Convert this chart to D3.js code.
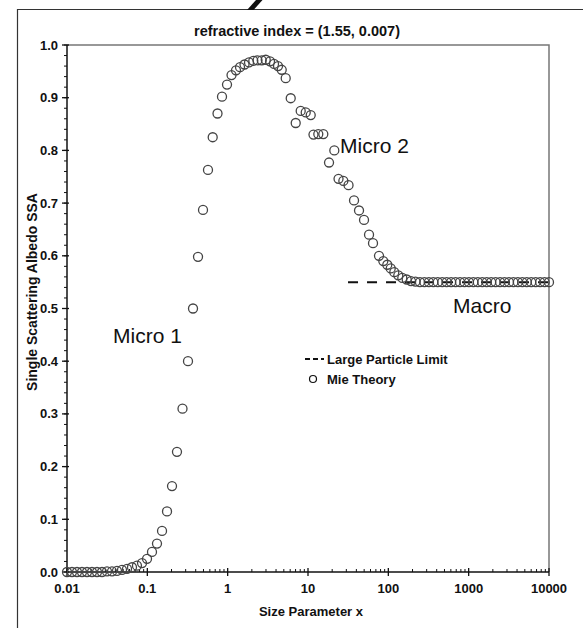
<!DOCTYPE html>
<html>
<head>
<meta charset="utf-8">
<script src="https://cdn.jsdelivr.net/npm/d3@7"></script>
<style>
body { margin: 0; background: #fff; }
svg { display: block; font-family: "Liberation Sans", Arial, Helvetica, sans-serif; }
.tick-label { font-size: 13px; font-weight: bold; fill: #111; }
.axis-title { font-size: 13px; font-weight: bold; fill: #111; }
.region { font-size: 21px; fill: #111; }
.legend { font-size: 13px; font-weight: bold; fill: #111; }
</style>
</head>
<body>
<svg id="chart" width="583" height="628"></svg>
<script>
//
// data
//

var chartTitle = "refractive index = (1.55, 0.007)";
var xTitle = "Size Parameter x";
var yTitle = "Single Scattering Albedo SSA";

var xTicks = [0.01, 0.1, 1, 10, 100, 1000, 10000];
var xTickLabels = ["0.01", "0.1", "1", "10", "100", "1000", "10000"];
var yTicks = [0, 0.1, 0.2, 0.3, 0.4, 0.5, 0.6, 0.7, 0.8, 0.9, 1.0];

// Mie theory (size parameter, SSA)
var mieX = [
	0.01, 0.01154, 0.01332, 0.01537, 0.01774, 0.02047, 0.02363, 0.02727, 0.03148, 0.03632,
	0.0419, 0.04839, 0.05585, 0.06442, 0.0743, 0.0859, 0.0991, 0.1143, 0.1319, 0.1524,
	0.1758, 0.2029, 0.2339, 0.274, 0.3208, 0.3703, 0.4275, 0.4932, 0.569, 0.6512,
	0.7475, 0.8502, 0.9813, 1.117, 1.27, 1.425, 1.621, 1.844, 2.086, 2.353,
	2.655, 2.977, 3.367, 3.776, 4.235, 4.708, 5.279, 6.094, 7.031, 8.111,
	9.365, 10.81, 11.7, 13.43, 15.51, 18.27, 21.26, 23.99, 27.54, 31.95,
	37.41, 43.17, 49.82, 57.52, 64.45, 76.54, 86.6, 97.1, 107.1, 118.6,
	133.0, 149.2, 169.3, 191.6, 217.9, 247.6, 281.4, 319.7, 363.1, 412.5,
	468.7, 532.4, 604.9, 687.1, 780.6, 886.8, 1007, 1144, 1300, 1477,
	1678, 1906, 2165, 2460, 2795, 3175, 3607, 4098, 4656, 5289,
	6009, 6827, 7756, 8810, 10000
];
var mieSSA = [
	0.000, 0.000, 0.000, 0.000, 0.000, 0.000, 0.000, 0.000, 0.001, 0.001,
	0.002, 0.004, 0.006, 0.009, 0.012, 0.017, 0.025, 0.038, 0.054, 0.078,
	0.115, 0.163, 0.228, 0.310, 0.400, 0.500, 0.598, 0.687, 0.763, 0.825,
	0.870, 0.902, 0.925, 0.943, 0.952, 0.958, 0.963, 0.967, 0.970, 0.971,
	0.971, 0.972, 0.969, 0.964, 0.960, 0.953, 0.937, 0.899, 0.852, 0.875,
	0.872, 0.867, 0.830, 0.831, 0.831, 0.777, 0.800, 0.746, 0.742, 0.734,
	0.705, 0.686, 0.668, 0.640, 0.624, 0.600, 0.590, 0.583, 0.576, 0.569,
	0.563, 0.558, 0.555, 0.552, 0.551, 0.550, 0.550, 0.550, 0.550, 0.550,
	0.550, 0.550, 0.550, 0.550, 0.550, 0.550, 0.550, 0.550, 0.550, 0.550,
	0.550, 0.550, 0.550, 0.550, 0.550, 0.550, 0.550, 0.550, 0.550, 0.550,
	0.550, 0.550, 0.550, 0.550, 0.550
];

// large particle limit
var limitX = [31.5, 10000];
var limitSSA = [0.55, 0.55];

//
//
//

var svg = d3.select("#chart");

// plot box in pixels (note: "top" is a reserved window property)
var plotLeft = 67, plotRight = 549, plotTop = 45, plotBottom = 572;

var xScale = d3.scaleLog().domain([0.01, 10000]).range([plotLeft, plotRight]);
var yScale = d3.scaleLinear().domain([0, 1]).range([plotBottom, plotTop]);

function draw_frame()
{
	// outer frame, runs off the right and bottom of the picture
	svg.append("path")
		.attr("d", "M17.5,628 L17.5,9.5 L583,9.5")
		.attr("fill", "none")
		.attr("stroke", "#333")
		.attr("stroke-width", 1.2);

	// the cut-off black stroke above the frame
	svg.append("path")
		.attr("d", "M247,10 L253.5,10 L262.5,0 L256,0 Z")
		.attr("fill", "#111");
}

function draw_axes()
{
	// box: top and right sides in grey
	svg.append("path")
		.attr("d", "M" + plotLeft + "," + plotTop + " L" + plotRight + "," + plotTop + " L" + plotRight + "," + plotBottom)
		.attr("fill", "none")
		.attr("stroke", "#777")
		.attr("stroke-width", 1.5);

	var minorY = d3.range(0, 51).map(d => d / 50);

	svg.selectAll("line.yminor")
		.data(minorY)
		.enter()
		.append("line")
			.attr("class", "yminor")
			.attr("x1", plotLeft - 3).attr("x2", plotLeft)
			.attr("y1", d => yScale(d)).attr("y2", d => yScale(d))
			.attr("stroke", "#111").attr("stroke-width", 1);

	svg.selectAll("line.ymajor")
		.data(yTicks)
		.enter()
		.append("line")
			.attr("class", "ymajor")
			.attr("x1", plotLeft - 5).attr("x2", plotLeft + 2)
			.attr("y1", d => yScale(d)).attr("y2", d => yScale(d))
			.attr("stroke", "#111").attr("stroke-width", 1.3);

	svg.selectAll("text.ylab")
		.data(yTicks)
		.enter()
		.append("text")
			.attr("class", "tick-label ylab")
			.attr("x", plotLeft - 9)
			.attr("y", d => yScale(d) + 4.5)
			.attr("text-anchor", "end")
			.text(d => d3.format(".1f")(d));

	var minorX = [];
	xTicks.slice(0, -1).forEach(function(t) {
		for (var k = 2; k < 10; k++) minorX.push(t * k);
	});

	svg.selectAll("line.xminor")
		.data(minorX)
		.enter()
		.append("line")
			.attr("class", "xminor")
			.attr("x1", d => xScale(d)).attr("x2", d => xScale(d))
			.attr("y1", plotBottom - 3).attr("y2", plotBottom)
			.attr("stroke", "#111").attr("stroke-width", 1);

	svg.selectAll("line.xmajor")
		.data(xTicks)
		.enter()
		.append("line")
			.attr("class", "xmajor")
			.attr("x1", d => xScale(d)).attr("x2", d => xScale(d))
			.attr("y1", plotBottom - 4).attr("y2", plotBottom + 4)
			.attr("stroke", "#111").attr("stroke-width", 1.3);

	svg.selectAll("text.xlab")
		.data(xTicks)
		.enter()
		.append("text")
			.attr("class", "tick-label xlab")
			.attr("x", d => xScale(d))
			.attr("y", plotBottom + 21)
			.attr("text-anchor", "middle")
			.text((d, i) => xTickLabels[i]);

	// axis lines
	svg.append("line")
		.attr("x1", plotLeft).attr("x2", plotLeft)
		.attr("y1", plotTop).attr("y2", plotBottom)
		.attr("stroke", "#111").attr("stroke-width", 1.5);
	svg.append("line")
		.attr("x1", plotLeft).attr("x2", plotRight)
		.attr("y1", plotBottom).attr("y2", plotBottom)
		.attr("stroke", "#111").attr("stroke-width", 1.5);

	svg.append("text")
		.attr("class", "axis-title")
		.attr("x", 311).attr("y", 616)
		.attr("text-anchor", "middle")
		.text(xTitle);

	svg.append("text")
		.attr("class", "axis-title")
		.attr("transform", "translate(37,292) rotate(-90)")
		.attr("text-anchor", "middle")
		.style("font-size", "14px")
		.text(yTitle);

	svg.append("text")
		.attr("class", "axis-title")
		.attr("x", 297).attr("y", 36)
		.attr("text-anchor", "middle")
		.style("font-size", "14.5px")
		.text(chartTitle);
}

function draw_data()
{
	var pts = mieX.map((x, i) => ({x: x, y: mieSSA[i]}));

	svg.append("path")
		.datum(limitX.map((x, i) => [x, limitSSA[i]]))
		.attr("d", d3.line().x(d => xScale(d[0])).y(d => yScale(d[1])))
		.attr("fill", "none")
		.attr("stroke", "#111")
		.attr("stroke-width", 2)
		.attr("stroke-dasharray", "10,9");

	svg.selectAll("circle.mie")
		.data(pts)
		.enter()
		.append("circle")
			.attr("class", "mie")
			.attr("cx", d => xScale(d.x))
			.attr("cy", d => yScale(d.y))
			.attr("r", 4.5)
			.attr("fill", "none")
			.attr("stroke", "#444")
			.attr("stroke-width", 1.3);
}

function draw_labels()
{
	svg.append("text").attr("class", "region").attr("x", 113).attr("y", 343).text("Micro 1");
	svg.append("text").attr("class", "region").attr("x", 340).attr("y", 153).text("Micro 2");
	svg.append("text").attr("class", "region").attr("x", 453).attr("y", 313).text("Macro");

	// legend
	svg.append("line")
		.attr("x1", 305).attr("x2", 324)
		.attr("y1", 359).attr("y2", 359)
		.attr("stroke", "#111").attr("stroke-width", 2)
		.attr("stroke-dasharray", "5,3");
	svg.append("text").attr("class", "legend").attr("x", 327).attr("y", 364).text("Large Particle Limit");

	svg.append("circle")
		.attr("cx", 313).attr("cy", 379).attr("r", 3.5)
		.attr("fill", "none").attr("stroke", "#111").attr("stroke-width", 1.2);
	svg.append("text").attr("class", "legend").attr("x", 327).attr("y", 384).text("Mie Theory");
}

draw_frame();
draw_axes();
draw_data();
draw_labels();
</script>
</body>
</html>
